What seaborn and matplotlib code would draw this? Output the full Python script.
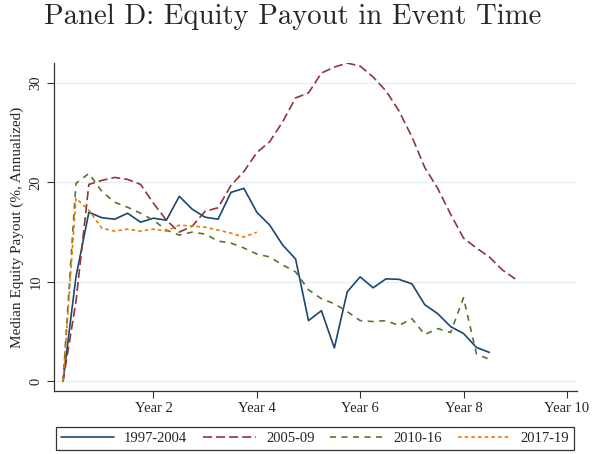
import matplotlib
matplotlib.use("Agg")
import matplotlib.pyplot as plt
import pandas as pd
import seaborn as sns

# event time in quarters after the event
quarters = list(range(1, 37))

payout_1997_2004 = [0, 10.5, 17.0, 16.45, 16.3, 16.9, 16.0, 16.4, 16.2, 18.6, 17.3, 16.5,
                    16.3, 19.0, 19.4, 17.0, 15.7, 13.7, 12.3, 6.1, 7.1, 3.35, 9.0, 10.5,
                    9.4, 10.3, 10.25, 9.8, 7.7, 6.8, 5.5, 4.8, 3.4, 2.9]
payout_2005_09 = [0, 8.0, 19.8, 20.2, 20.5, 20.3, 19.8, 17.9, 16.2, 15.0, 15.6, 17.1,
                  17.45, 19.7, 21.1, 23.0, 24.1, 26.1, 28.5, 29.0, 31.0, 31.6, 32.0, 31.7,
                  30.6, 29.2, 27.2, 24.6, 21.5, 19.4, 16.8, 14.4, 13.4, 12.5, 11.2, 10.3]
payout_2010_16 = [0, 19.9, 20.9, 19.1, 18.0, 17.5, 16.9, 16.2, 15.2, 14.7, 15.0, 14.8,
                  14.1, 13.9, 13.4, 12.8, 12.5, 11.7, 11.0, 9.2, 8.3, 7.8, 7.0, 6.1,
                  6.0, 6.1, 5.6, 6.3, 4.7, 5.3, 4.9, 8.4, 2.75, 2.2]
payout_2017_19 = [0, 18.4, 17.2, 15.4, 15.1, 15.3, 15.1, 15.3, 15.1, 15.7, 15.6, 15.5,
                  15.2, 14.9, 14.5, 15.0]

cohorts = ["1997-2004", "2005-09", "2010-16", "2017-19"]
series = [payout_1997_2004, payout_2005_09, payout_2010_16, payout_2017_19]
colors = ["#1a476f", "#90353b", "#55752f", "#e37e00"]
tick_years = [2, 4, 6, 8, 10]

rows = []
for name, vals in zip(cohorts, series):
    for q, v in zip(quarters, vals):
        rows.append({"year": q / 4, "payout": v, "cohort": name})
df = pd.DataFrame(rows)

sns.set_theme(style="white")
plt.rcParams["font.family"] = ["Liberation Serif", "DejaVu Serif"]
plt.rcParams["lines.scale_dashes"] = False

fig = plt.figure(figsize=(5.97, 4.54), dpi=100)
ax = fig.add_axes([0.090, 0.139, 0.876, 0.722])

dashes = {"1997-2004": "", "2005-09": (6.5, 2.9), "2010-16": (4.3, 4.0), "2017-19": (2.6, 2.2)}
sns.lineplot(data=df, x="year", y="payout", hue="cohort", style="cohort",
             palette=dict(zip(cohorts, colors)), dashes=dashes, linewidth=1.2,
             ax=ax, legend=True)

ax.set_xlim(0.07, 10.19)
ax.set_ylim(-0.97, 32.0)
ax.set_xticks(tick_years)
ax.set_xticklabels([f"Year {y}" for y in tick_years], fontsize=10.5)
ax.set_yticks([0, 10, 20, 30])
ax.set_yticklabels(["0", "10", "20", "30"], fontsize=10.5, rotation=90, va="center")
ax.tick_params(axis="both", direction="out", length=5, width=0.8, color="#333333",
               bottom=True, left=True, pad=3)
ax.yaxis.grid(True, color="#e6eff1", linewidth=1.0)
ax.xaxis.grid(False)
for side in ["top", "right"]:
    ax.spines[side].set_visible(False)
for side in ["left", "bottom"]:
    ax.spines[side].set_color("#333333")
    ax.spines[side].set_linewidth(0.9)
ax.set_xlabel("")
ax.set_ylabel("Median Equity Payout (%, Annualized)", fontsize=11)

handles, labels = ax.get_legend_handles_labels()
ax.get_legend().remove()
leg = fig.legend(handles, labels, loc="center", bbox_to_anchor=(0.528, 0.034), ncol=4,
                 frameon=True, fancybox=False, edgecolor="black", fontsize=10.5,
                 handlelength=3.6, columnspacing=1.1, borderpad=0.35, handletextpad=0.7)
leg.get_frame().set_linewidth(0.9)

fig.text(0.49, 0.962, "Panel D: Equity Payout in Event Time", ha="center", va="center",
         fontsize=20.7, family=["cmr10", "DejaVu Serif"])

fig.savefig("out.png", dpi=100)
